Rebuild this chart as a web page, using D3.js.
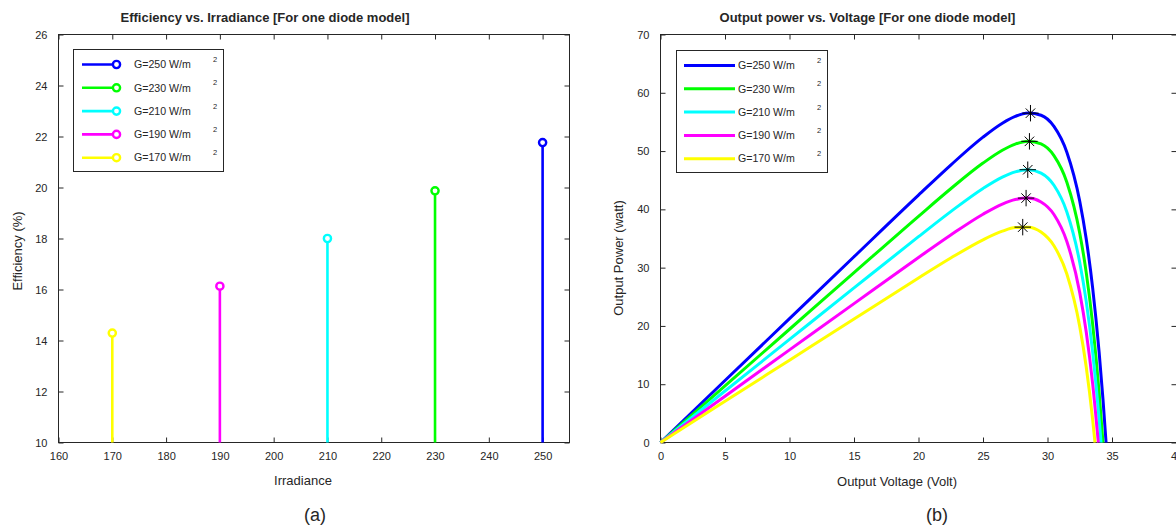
<!DOCTYPE html>
<html>
<head>
<meta charset="utf-8">
<script src="https://cdn.jsdelivr.net/npm/d3@7"></script>
<style>
  html, body { margin: 0; padding: 0; background: #ffffff; }
  svg { display: block; }
  text { font-family: "Liberation Sans", Arial, sans-serif; fill: #262626; }
</style>
</head>
<body>
<div id="chart"></div>
<script>
// ---------- Data ----------
const seriesNames = ["G=250 W/m", "G=230 W/m", "G=210 W/m", "G=190 W/m", "G=170 W/m"];
const seriesColors = ["#0000ff", "#00ff00", "#00ffff", "#ff00ff", "#ffff00"];

// (a) Efficiency vs irradiance (stem plot)
const irradiance = [250, 230, 210, 190, 170];
const efficiency = [21.76, 19.87, 18.0, 16.13, 14.29];
const xTicksA = [160, 170, 180, 190, 200, 210, 220, 230, 240, 250];
const yTicksA = [10, 12, 14, 16, 18, 20, 22, 24, 26];

// (b) Output power vs voltage
const voltage250 = [0, 5, 10, 15, 20, 22.5, 25, 26.5, 27.5, 28.5, 29.5, 30.5, 31.5, 32.5, 33, 33.5, 34, 34.3, 34.54];
const power250   = [0, 10.63, 21.25, 31.87, 42.44, 47.60, 52.39, 54.78, 55.95, 56.53, 56.15, 54.23, 49.81, 41.40, 34.97, 26.53, 15.53, 7.43, 0];
const voltage230 = [0, 5, 10, 15, 20, 22.5, 25, 26.5, 27.5, 28.5, 29.5, 30.5, 31.5, 32.5, 33, 33.5, 34, 34.3];
const power230   = [0, 9.72, 19.43, 29.14, 38.81, 43.54, 47.94, 50.15, 51.20, 51.69, 51.24, 49.22, 44.66, 35.91, 29.19, 20.31, 8.64, 0];
const voltage210 = [0, 5, 10, 15, 20, 22.5, 25, 26.5, 27.5, 28.5, 29.5, 30.5, 31.5, 32.5, 33, 33.5, 34, 34.15];
const power210   = [0, 8.84, 17.68, 26.52, 35.31, 39.61, 43.59, 45.54, 46.44, 46.79, 46.21, 44.13, 39.55, 30.88, 24.25, 15.51, 4.07, 0];
const voltage190 = [0, 5, 10, 15, 20, 22.5, 25, 26.5, 27.5, 28.5, 29.5, 30.5, 31.5, 32.5, 33, 33.5, 33.94];
const power190   = [0, 7.95, 15.89, 23.83, 31.74, 35.60, 39.17, 40.91, 41.69, 41.93, 41.27, 39.12, 34.48, 25.71, 18.99, 10.10, 0];
const voltage170 = [0, 5, 10, 15, 20, 22.5, 25, 26.5, 27.5, 28.5, 29.5, 30.5, 31.5, 32.5, 33, 33.5, 33.68];
const power170   = [0, 7.07, 14.13, 21.19, 28.22, 31.65, 34.78, 36.26, 36.87, 36.93, 36.10, 33.75, 28.90, 19.88, 13.0, 3.93, 0];
const mppVoltage = [28.68, 28.6, 28.47, 28.34, 28.08];
const mppPower   = [56.5, 51.67, 46.8, 41.93, 36.95];
const xTicksB = [0, 5, 10, 15, 20, 25, 30, 35, 40];
const yTicksB = [0, 10, 20, 30, 40, 50, 60, 70];

const voltages = [voltage250, voltage230, voltage210, voltage190, voltage170];
const powers = [power250, power230, power210, power190, power170];

// ---------- Drawing ----------
const W = 1176, H = 527;
const AXC = "#262626";
const svg = d3.select("#chart").append("svg").attr("width", W).attr("height", H);
svg.append("rect").attr("width", W).attr("height", H).attr("fill", "#fff");

function frame(g, x, y, xt, yt) {
  const [x0, x1] = x.range(), [y0, y1] = y.range();
  const ax = (sel) => { sel.select(".domain").remove(); sel.selectAll("line").attr("stroke", AXC); sel.selectAll("text").attr("font-size", 11).attr("fill", AXC).attr("font-family", '"Liberation Sans", Arial, sans-serif'); };
  g.append("g").attr("transform", `translate(0,${y0})`).call(d3.axisBottom(x).tickValues(xt).tickSize(-5).tickPadding(10)).call(ax);
  g.append("g").attr("transform", `translate(0,${y1})`).call(d3.axisTop(x).tickValues(xt).tickSize(-5).tickFormat("")).call(ax);
  g.append("g").attr("transform", `translate(${x0},0)`).call(d3.axisLeft(y).tickValues(yt).tickSize(-5).tickPadding(11)).call(ax);
  g.append("g").attr("transform", `translate(${x1},0)`).call(d3.axisRight(y).tickValues(yt).tickSize(-5).tickFormat("")).call(ax);
  g.append("rect").attr("x", x0).attr("y", y1).attr("width", x1 - x0).attr("height", y0 - y1)
    .attr("fill", "none").attr("stroke", AXC).attr("stroke-width", 1);
}

function legend(g, bx, by, bw, bh, drawSym, textX, supX) {
  g.append("rect").attr("x", bx).attr("y", by).attr("width", bw).attr("height", bh)
    .attr("fill", "#fff").attr("stroke", AXC).attr("stroke-width", 1);
  seriesNames.forEach((name, i) => {
    const cy = by + 15 + i * 23.3;
    drawSym(g, cy, seriesColors[i]);
    g.append("text").attr("x", textX).attr("y", cy).attr("dy", "0.35em").attr("font-size", 10.6).text(name);
    g.append("text").attr("x", supX).attr("y", cy - 5).attr("dy", "0.35em").attr("font-size", 7.5).text("2");
  });
}

// ----- Panel (a) -----
const xA = d3.scaleLinear().domain([160, 255]).range([58.5, 569.5]);
const yA = d3.scaleLinear().domain([10, 26]).range([442.5, 34.5]);
const gA = svg.append("g");
frame(gA, xA, yA, xTicksA, yTicksA);

gA.selectAll("line.stem").data(irradiance).join("line")
  .attr("x1", d => xA(d)).attr("x2", d => xA(d))
  .attr("y1", yA(10)).attr("y2", (d, i) => yA(efficiency[i]))
  .attr("stroke", (d, i) => seriesColors[i]).attr("stroke-width", 2.6);
gA.selectAll("circle.stem").data(irradiance).join("circle")
  .attr("cx", d => xA(d)).attr("cy", (d, i) => yA(efficiency[i])).attr("r", 3.6)
  .attr("fill", "#fff").attr("stroke", (d, i) => seriesColors[i]).attr("stroke-width", 2.4);

legend(gA, 73.5, 49.5, 150, 122, (g, cy, c) => {
  g.append("line").attr("x1", 82).attr("x2", 116).attr("y1", cy).attr("y2", cy).attr("stroke", c).attr("stroke-width", 2.6);
  g.append("circle").attr("cx", 116.5).attr("cy", cy).attr("r", 3.6).attr("fill", "#fff").attr("stroke", c).attr("stroke-width", 2.4);
}, 134, 213);

gA.append("text").attr("x", 265).attr("y", 17).attr("dy", "0.35em").attr("text-anchor", "middle")
  .attr("font-size", 13).attr("font-weight", "bold").attr("fill", "#000").text("Efficiency vs. Irradiance [For one diode model]");
gA.append("text").attr("x", 303).attr("y", 480).attr("dy", "0.35em").attr("text-anchor", "middle")
  .attr("font-size", 13).text("Irradiance");
gA.append("text").attr("transform", "translate(17,251) rotate(-90)").attr("dy", "0.35em").attr("text-anchor", "middle")
  .attr("font-size", 13).text("Efficiency (%)");
gA.append("text").attr("x", 315).attr("y", 515).attr("dy", "0.35em").attr("text-anchor", "middle")
  .attr("font-size", 18).attr("font-family", '"Liberation Serif", "Times New Roman", serif').attr("fill", "#000").text("(a)");

// ----- Panel (b) -----
const xB = d3.scaleLinear().domain([0, 40]).range([660.5, 1176.5]);
const yB = d3.scaleLinear().domain([0, 70]).range([442.5, 34.5]);
const gB = svg.append("g");
frame(gB, xB, yB, xTicksB, yTicksB);

const line = d3.line().x(d => xB(d[0])).y(d => yB(d[1])).curve(d3.curveMonotoneX);
voltages.forEach((vs, i) => {
  gB.append("path").datum(vs.map((v, k) => [v, powers[i][k]]))
    .attr("d", line).attr("fill", "none").attr("stroke", seriesColors[i]).attr("stroke-width", 3)
    .attr("stroke-linejoin", "round");
});
const plusSym = d3.symbol(d3.symbolPlus, 90)();
const timesSym = d3.symbol(d3.symbolTimes, 60)();
mppVoltage.forEach((v, i) => {
  const gg = gB.append("g").attr("transform", `translate(${xB(v)},${yB(mppPower[i])})`);
  gg.append("path").attr("d", plusSym).attr("fill", "none").attr("stroke", "#000").attr("stroke-width", 1);
  gg.append("path").attr("d", timesSym).attr("fill", "none").attr("stroke", "#000").attr("stroke-width", 1);
});

legend(gB, 676.5, 50.5, 151, 122, (g, cy, c) => {
  g.append("line").attr("x1", 684).attr("x2", 735).attr("y1", cy).attr("y2", cy).attr("stroke", c).attr("stroke-width", 3);
}, 738, 817);

gB.append("text").attr("x", 867.5).attr("y", 17).attr("dy", "0.35em").attr("text-anchor", "middle")
  .attr("font-size", 13).attr("font-weight", "bold").attr("fill", "#000").text("Output power vs. Voltage [For one diode model]");
gB.append("text").attr("x", 897).attr("y", 481).attr("dy", "0.35em").attr("text-anchor", "middle")
  .attr("font-size", 13).text("Output Voltage (Volt)");
gB.append("text").attr("transform", "translate(618,258) rotate(-90)").attr("dy", "0.35em").attr("text-anchor", "middle")
  .attr("font-size", 13).text("Output Power (watt)");
gB.append("text").attr("x", 937).attr("y", 515).attr("dy", "0.35em").attr("text-anchor", "middle")
  .attr("font-size", 18).attr("font-family", '"Liberation Serif", "Times New Roman", serif').attr("fill", "#000").text("(b)");
</script>
</body>
</html>
